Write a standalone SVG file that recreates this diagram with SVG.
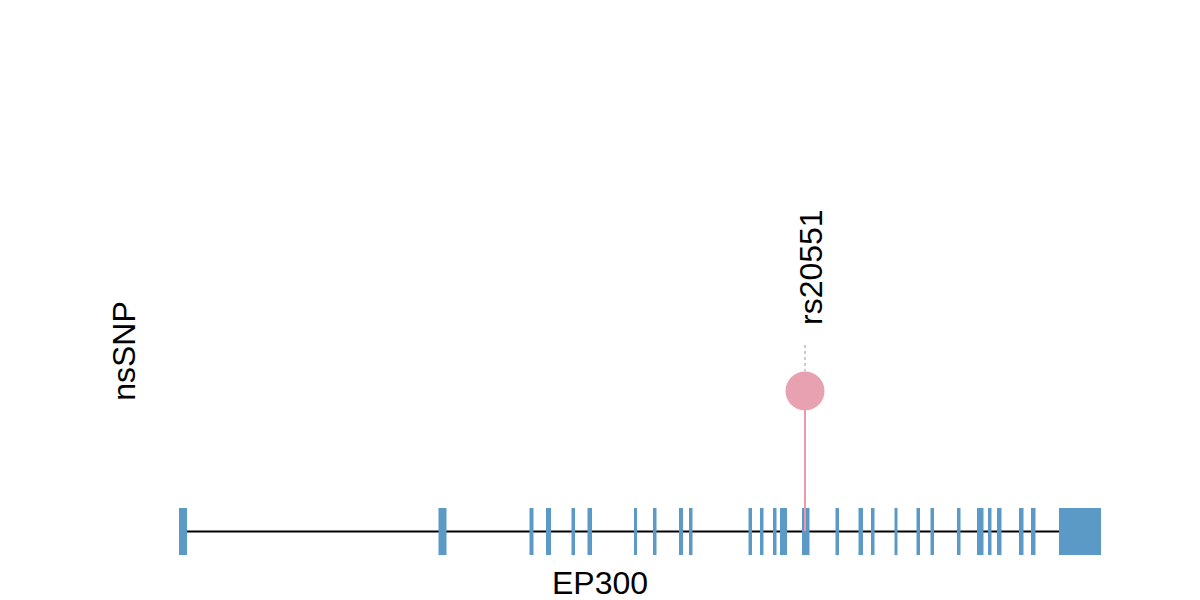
<svg xmlns="http://www.w3.org/2000/svg" width="1200" height="600" viewBox="0 0 1200 600">
<style>
.lbl{font-family:"Liberation Sans",Arial,sans-serif;font-size:32px;fill:#000}
.exon{fill:#5b9ac6}
</style>
<rect width="1200" height="600" fill="#fff"/>
<g id="connectors">
<line x1="183" y1="531.5" x2="1062" y2="531.5" stroke="#000" stroke-width="2"/>
<line x1="805" y1="345" x2="805" y2="371" stroke="#bbbbbb" stroke-width="1.5" stroke-dasharray="3,3"/>
</g>
<g id="gene-EP300">
<rect class="exon" x="179" y="508" width="8" height="47"/>
<rect class="exon" x="438.5" y="508" width="8" height="47"/>
<rect class="exon" x="529.5" y="508" width="4" height="47"/>
<rect class="exon" x="546" y="508" width="5" height="47"/>
<rect class="exon" x="571.5" y="508" width="3.5" height="47"/>
<rect class="exon" x="587.5" y="508" width="4.5" height="47"/>
<rect class="exon" x="634" y="508" width="3" height="47"/>
<rect class="exon" x="653" y="508" width="3.5" height="47"/>
<rect class="exon" x="679" y="508" width="4" height="47"/>
<rect class="exon" x="689" y="508" width="3.5" height="47"/>
<rect class="exon" x="748.5" y="508" width="3.5" height="47"/>
<rect class="exon" x="760" y="508" width="3.5" height="47"/>
<rect class="exon" x="773" y="508" width="3.5" height="47"/>
<rect class="exon" x="780" y="508" width="7" height="47"/>
<rect class="exon" x="802" y="508" width="7.5" height="47"/>
<rect class="exon" x="835.5" y="508" width="3.5" height="47"/>
<rect class="exon" x="858.5" y="508" width="4.5" height="47"/>
<rect class="exon" x="871" y="508" width="3.5" height="47"/>
<rect class="exon" x="894.5" y="508" width="3" height="47"/>
<rect class="exon" x="916.5" y="508" width="3.5" height="47"/>
<rect class="exon" x="930.5" y="508" width="3.5" height="47"/>
<rect class="exon" x="957" y="508" width="3.5" height="47"/>
<rect class="exon" x="977" y="508" width="6.5" height="47"/>
<rect class="exon" x="988" y="508" width="3.5" height="47"/>
<rect class="exon" x="997" y="508" width="4.5" height="47"/>
<rect class="exon" x="1019" y="508" width="4.5" height="47"/>
<rect class="exon" x="1031" y="508" width="4.5" height="47"/>
<rect class="exon" x="1059" y="508" width="5" height="47"/>
<rect class="exon" x="1064" y="508" width="37" height="47"/>
<text class="lbl" x="600" y="594" text-anchor="middle">EP300</text>
</g>
<g id="snp-rs20551">
<line x1="805" y1="391" x2="805" y2="531" stroke="#e899ab" stroke-width="2"/>
<circle cx="805" cy="391" r="19.5" fill="#e8a1b1"/>
<text class="lbl" transform="translate(822,325) rotate(-90)" text-anchor="start">rs20551</text>
</g>
<g id="track-label">
<text class="lbl" transform="translate(135,351) rotate(-90)" text-anchor="middle">nsSNP</text>
</g>
</svg>
